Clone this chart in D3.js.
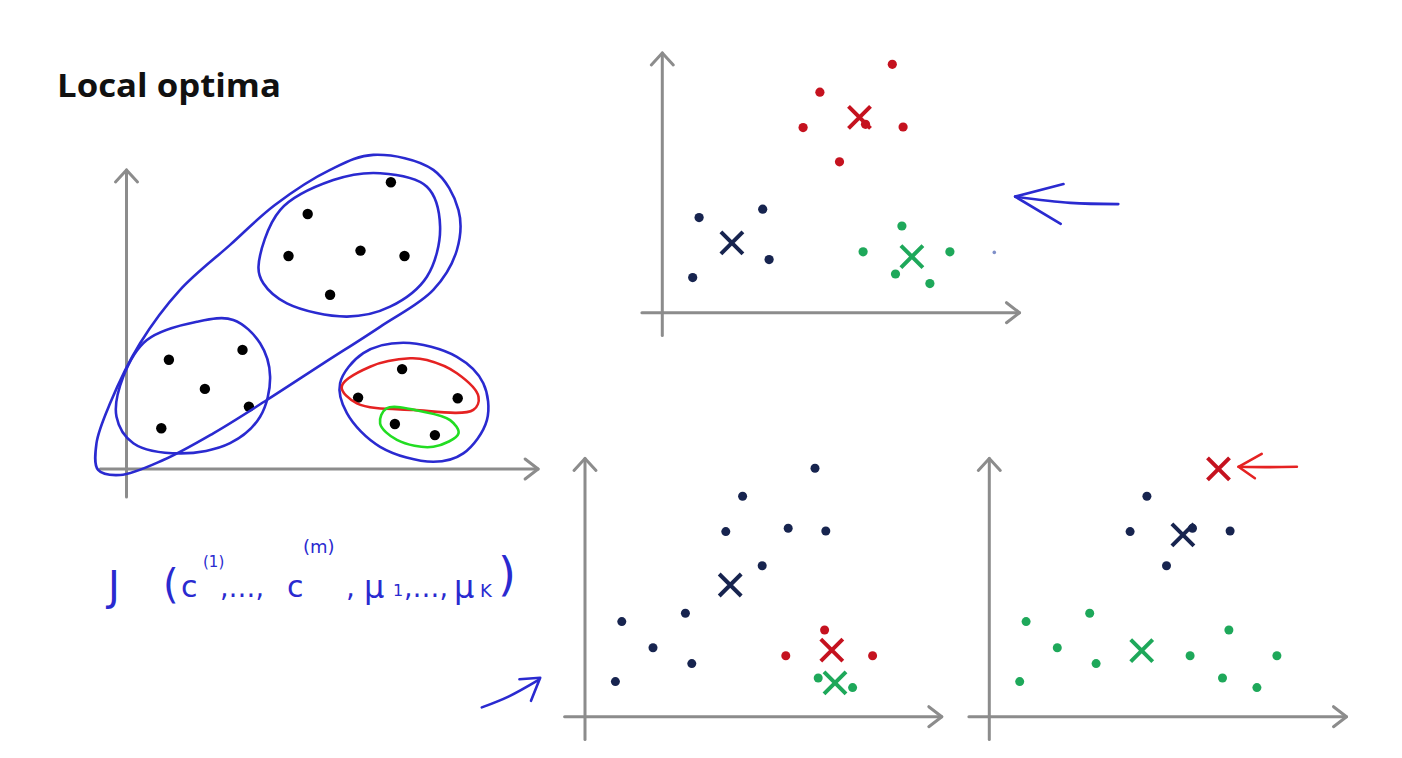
<!DOCTYPE html>
<html>
<head>
<meta charset="utf-8">
<script src="https://cdn.jsdelivr.net/npm/d3@7"></script>
<style>
  html, body { margin: 0; padding: 0; background: #ffffff; }
  svg { display: block; }
</style>
</head>
<body>
<svg id="chart" width="1402" height="758"></svg>
<script>
// ---------------- DATA ----------------
const title = "Local optima";

// Panel 1 (left): unlabeled points and hand-drawn groupings (data units)
const panel1Points = [
  [6.61,9.56],[4.53,8.50],[4.05,7.10],[5.85,7.28],[6.95,7.10],[5.09,5.81],
  [1.06,3.64],[2.90,3.97],[1.96,2.67],[3.06,2.08],[0.87,1.36],
  [6.89,3.33],[5.79,2.38],[8.28,2.36],[6.71,1.50],[7.71,1.13]
];
const loopOuter = [
  [6.17,10.47],[7.67,9.97],[8.30,8.63],[8.26,7.30],[7.67,5.97],[6.34,4.74],[4.92,3.52],
  [3.51,2.30],[2.17,1.19],[0.92,0.30],[-0.16,-0.20],[-0.71,-0.03],[-0.75,0.86],[-0.41,2.19],
  [0.34,4.19],[1.34,5.97],[2.59,7.47],[3.71,8.80],[5.09,9.97]
];
const loopUpper = [
  [3.30,6.74],[3.84,8.63],[5.17,9.63],[6.34,9.86],[7.51,9.41],[7.84,8.08],
  [7.51,6.41],[6.59,5.41],[5.51,5.08],[4.01,5.52],[3.42,6.19]
];
const loopLowerLeft = [
  [1.76,4.91],[2.67,4.97],[3.34,4.19],[3.59,3.08],[3.34,1.74],[2.59,0.86],
  [1.34,0.52],[0.17,0.86],[-0.25,1.74],[-0.08,3.08],[0.51,4.30]
];
const loopLowerRight = [
  [6.92,4.21],[8.26,3.74],[8.92,2.86],[9.01,1.63],[8.42,0.52],[7.67,0.24],
  [6.34,0.74],[5.51,1.86],[5.34,2.86],[5.92,3.86]
];
const loopRed = [
  [7.09,3.69],[6.09,3.41],[5.38,2.74],[5.76,2.19],[7.17,1.97],[8.67,1.97],
  [8.80,2.41],[8.26,3.19],[7.51,3.63]
];
const loopGreen = [
  [6.50,2.02],[6.34,1.52],[6.76,0.97],[7.67,0.74],[8.30,1.19],[8.09,1.63],[7.42,1.91]
];

// Shared dataset for the three K-means runs (data units)
const points = [
  [5.75,8.28],[3.94,7.35],[3.52,6.17],[5.08,6.28],[6.02,6.19],[4.43,5.03],
  [0.92,3.17],[2.51,3.45],[1.70,2.30],[2.67,1.77],[0.76,1.17],
  [5.99,2.89],[5.02,2.03],[7.19,2.03],[5.83,1.29],[6.69,0.97]
];
// cluster assignment per run: 0 = red, 1 = navy, 2 = green
const run1Assign = [0,0,0,0,0,0,1,1,1,1,1,2,2,2,2,2];
const run1Centroids = [[4.93,6.51],[1.74,2.33],[6.24,1.87]];
const run2Assign = [1,1,1,1,1,1,1,1,1,1,1,0,0,0,2,2];
const run2Centroids = [[6.17,2.22],[3.63,4.39],[6.25,1.13]];
const run3Assign = [0,1,1,1,1,1,2,2,2,2,2,2,2,2,2,2];
const run3Centroids = [[5.73,8.26],[4.84,6.06],[3.81,2.20]];
const strayMark = [8.30,2.01];

// annotations (data units of each panel)
const arrowRun1 = { shaft: [[11.40,3.62],[10.2,3.66],[8.82,3.87]], head: [[10.03,4.29],[8.82,3.87],[9.96,2.96]] };
const arrowRun2 = { shaft: [[-2.58,0.31],[-1.9,0.68],[-1.17,1.22]], head: [[-1.64,1.25],[-1.12,1.30],[-1.35,0.53]] };
const arrowRun3 = { shaft: [[7.69,8.33],[6.9,8.32],[6.23,8.33]], head: [[6.81,8.76],[6.23,8.33],[6.64,7.95]] };

// ---------------- STYLE ----------------
const clusterColors = ["#c5121f", "#17244f", "#1ea85a"];
const axisColor = "#8c8c8c";
const penBlue = "#2a2ad0";
const penRed = "#e52222";
const penGreen = "#22dd22";

const svg = d3.select("#chart");

// ---------------- helpers ----------------
function makeScales(ox, oy, xMax, yMax, pxX, pxY) {
  return {
    x: d3.scaleLinear().domain([0, xMax]).range([ox, ox + xMax * pxX]),
    y: d3.scaleLinear().domain([0, yMax]).range([oy, oy - yMax * pxY])
  };
}

function drawAxes(g, s, xMin, yMin) {
  const [x0, x1] = s.x.domain();
  const [y0, y1] = s.y.domain();
  const ax = g.append("g").attr("stroke", axisColor).attr("stroke-width", 3)
    .attr("fill", "none").attr("stroke-linecap", "round").attr("stroke-linejoin", "round");
  ax.append("line").attr("x1", s.x(xMin)).attr("x2", s.x(x1)).attr("y1", s.y(0)).attr("y2", s.y(0));
  ax.append("line").attr("x1", s.x(0)).attr("x2", s.x(0)).attr("y1", s.y(yMin)).attr("y2", s.y(y1));
  const tx = s.x(x1), ty = s.y(0);
  ax.append("path").attr("d", `M${tx-13},${ty-10}L${tx},${ty}L${tx-13},${ty+10}`);
  const ux = s.x(0), uy = s.y(y1);
  ax.append("path").attr("d", `M${ux-11},${uy+12}L${ux},${uy}L${ux+11},${uy+12}`);
}

function drawLoop(g, s, pts, color, width) {
  const line = d3.line().x(d => s.x(d[0])).y(d => s.y(d[1])).curve(d3.curveCatmullRomClosed.alpha(0.5));
  g.append("path").attr("d", line(pts)).attr("fill", "none")
    .attr("stroke", color).attr("stroke-width", width || 2.6).attr("stroke-linejoin", "round");
}

function drawArrow(g, s, arr, color) {
  const line = d3.line().x(d => s.x(d[0])).y(d => s.y(d[1])).curve(d3.curveCatmullRom);
  g.append("path").attr("d", line(arr.shaft)).attr("fill", "none").attr("stroke", color)
    .attr("stroke-width", 2.6).attr("stroke-linecap", "round");
  const hl = d3.line().x(d => s.x(d[0])).y(d => s.y(d[1]));
  g.append("path").attr("d", hl(arr.head)).attr("fill", "none").attr("stroke", color)
    .attr("stroke-width", 2.6).attr("stroke-linecap", "round").attr("stroke-linejoin", "round");
}

function drawRun(s, assign, centroids, r) {
  const g = svg.append("g");
  drawAxes(g, s, -0.51, -0.76);
  // points hidden under a centroid marker are not drawn
  const visible = points.map((p, i) => ({ p, c: assign[i] }))
    .filter(d => Math.hypot(d.p[0] - centroids[d.c][0], d.p[1] - centroids[d.c][1]) > 0.15);
  g.selectAll("circle.pt").data(visible).join("circle")
    .attr("class", "pt")
    .attr("cx", d => s.x(d.p[0])).attr("cy", d => s.y(d.p[1]))
    .attr("r", r).attr("fill", d => clusterColors[d.c]);
  g.selectAll("path.cent").data(centroids).join("path")
    .attr("class", "cent")
    .attr("transform", d => `translate(${s.x(d[0])},${s.y(d[1])})`)
    .attr("d", "M-11,-11L11,11M-11,11L11,-11")
    .attr("stroke", (d, i) => clusterColors[i]).attr("stroke-width", 4).attr("fill", "none");
  return g;
}

// ---------------- TITLE ----------------
svg.append("text").attr("x", 57).attr("y", 96.5)
  .attr("font-family", "'Open Sans', sans-serif").attr("font-weight", 700)
  .attr("font-size", 32).attr("fill", "#111")
  .attr("textLength", 224).attr("lengthAdjust", "spacingAndGlyphs")
  .text(title);

// ---------------- PANEL 1 ----------------
const s1 = makeScales(126.5, 469, 10.29, 9.97, 40, 30);
const g1 = svg.append("g");
drawAxes(g1, s1, -0.66, -0.93);
g1.selectAll("circle").data(panel1Points).join("circle")
  .attr("cx", d => s1.x(d[0])).attr("cy", d => s1.y(d[1])).attr("r", 5.2).attr("fill", "#000");
drawLoop(g1, s1, loopOuter, penBlue);
drawLoop(g1, s1, loopUpper, penBlue);
drawLoop(g1, s1, loopLowerLeft, penBlue);
drawLoop(g1, s1, loopLowerRight, penBlue);
drawLoop(g1, s1, loopRed, penRed);
drawLoop(g1, s1, loopGreen, penGreen);

// cost function (handwritten in original) – each piece placed separately
const formula = svg.append("g").attr("font-family", "'DejaVu Sans', sans-serif").attr("fill", penBlue);
function piece(x, y, size, str, len) {
  const t = formula.append("text").attr("x", x).attr("y", y).attr("font-size", size).text(str);
  if (len) t.attr("textLength", len).attr("lengthAdjust", "spacingAndGlyphs");
  return t;
}
piece(108, 600, 40, "J");
piece(163, 598, 40, "(");
piece(181, 597, 30, "c");
piece(203, 567, 15, "(1)");
piece(220, 597, 28, ",…,", 44);
piece(287, 597, 30, "c");
piece(303, 553, 18, "(m)");
piece(346, 597, 28, ",");
piece(364, 598, 32, "μ");
piece(393, 596, 16, "1");
piece(404, 597, 28, ",…,", 44);
piece(454, 598, 32, "μ");
piece(480, 597, 18, "K");
piece(498, 590, 46, ")");

// ---------------- RUN 1 (top right) ----------------
const s2 = makeScales(662.3, 312.7, 8.93, 8.66, 40, 30);
const g2 = drawRun(s2, run1Assign, run1Centroids, 4.6);
g2.append("circle").attr("cx", s2.x(strayMark[0])).attr("cy", s2.y(strayMark[1]))
  .attr("r", 1.8).attr("fill", "#7f8fc8");
drawArrow(g2, s2, arrowRun1, penBlue);

// ---------------- RUN 2 (bottom middle) ----------------
const s3 = makeScales(585, 716.7, 8.92, 8.61, 40, 30);
const g3 = drawRun(s3, run2Assign, run2Centroids, 4.5);
drawArrow(g3, s3, arrowRun2, penBlue);

// ---------------- RUN 3 (bottom right) ----------------
const s4 = makeScales(989.3, 716.7, 8.93, 8.61, 40, 30);
const g4 = drawRun(s4, run3Assign, run3Centroids, 4.5);
drawArrow(g4, s4, arrowRun3, penRed);
</script>
</body>
</html>
